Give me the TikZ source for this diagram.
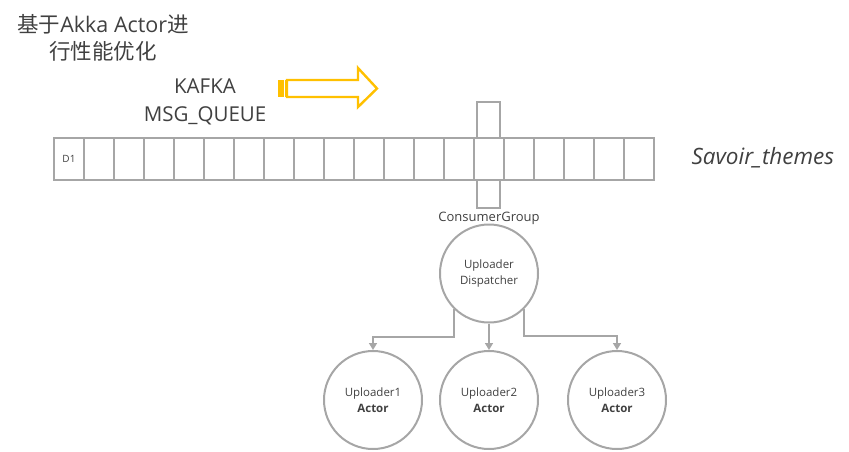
\documentclass[tikz,border=0pt]{standalone}
\usepackage{fontspec}
\setmainfont{Open Sans}
\newfontfamily\cjk{Noto Sans CJK SC}
\usetikzlibrary{arrows.meta,calc}
\definecolor{edge}{HTML}{A6A6A6}
\definecolor{txt}{HTML}{404040}
\definecolor{gold}{HTML}{FFC000}
\tikzset{
  cellbox/.style={draw=edge,line width=2pt,fill=white,minimum width=30pt,minimum height=42pt,inner sep=0pt,anchor=north west},
  bubble/.style={circle,draw=edge,line width=2pt,minimum size=98pt,inner sep=0pt,align=center,text=txt,font=\fontsize{11.5}{16}\selectfont},
  conn/.style={draw=edge,line width=1.6pt,-{Triangle[width=8pt,length=7pt]}},
  big/.style={text=txt,font=\fontsize{20.5}{28}\selectfont,align=center}
}
\begin{document}
\begin{tikzpicture}[x=1pt,y=-1pt]
\useasboundingbox (0,0) rectangle (849,451);
% title
\node[big,font=\fontsize{21.5}{27}\selectfont] (title) at (103,38) {{\cjk 基于}Akka Actor{\cjk 进}\\{\cjk 行性能优化}};
\node[big] (kafka) at (205,102) {KAFKA\\MSG\_QUEUE};
% yellow arrow
\fill[gold] (278,80) rectangle (283.5,97);
\draw[gold,line width=1pt] (285,80) -- (285,97);
\draw[gold,line width=2.4pt,line join=miter] (287,80) -- (358,80) -- (358,68) -- (377,88.5) -- (358,107) -- (358,97) -- (287,97) -- cycle;
% consumer extension
\draw[edge,line width=2pt] (477,102) rectangle (500,208);
% queue cells
\foreach \i in {0,...,19} {
  \node[cellbox] (cell\i) at ({53+30*\i},137) {};
}
\node[text=txt,font=\fontsize{10}{12}\selectfont] (d1) at (cell0.center) {D1};
\node[text=txt,font=\itshape\fontsize{22.5}{26}\selectfont,anchor=west] (topic) at (688,158) {Savoir\_themes};
\node[text=txt,font=\fontsize{13}{16}\selectfont] (cg) at (489,218) {ConsumerGroup};
% circles
\node[bubble] (disp) at (489,273.5) {Uploader\\Dispatcher};
\node[bubble] (a1) at (373,400) {Uploader1\\\textbf{Actor}};
\node[bubble] (a2) at (489,400) {Uploader2\\\textbf{Actor}};
\node[bubble] (a3) at (617,400) {Uploader3\\\textbf{Actor}};
% connectors
\coordinate (b1) at (454,337);
\coordinate (b3) at (524,336);
\draw[conn] (disp.226) -- (disp.226 |- b1) -| (a1.north);
\draw[conn] (disp.south) -- (a2.north);
\draw[conn] (disp.314) -- (disp.314 |- b3) -| (a3.north);
\end{tikzpicture}
\end{document}
